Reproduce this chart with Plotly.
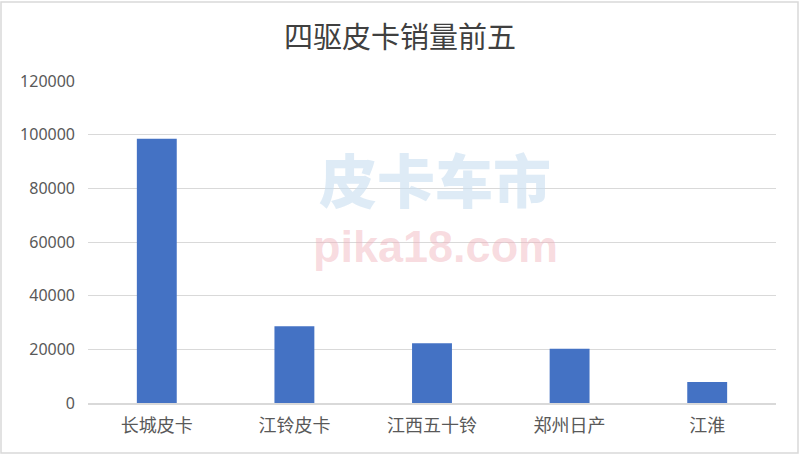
import plotly.graph_objects as go

categories = ["长城皮卡", "江铃皮卡", "江西五十铃", "郑州日产", "江淮"]
sales = [98500, 28600, 22300, 20200, 7850]
tick_vals = [0, 20000, 40000, 60000, 80000, 100000, 120000]
tick_text = ["0", "20000", "40000", "60000", "80000", "100000", "120000"]
title_text = "四驱皮卡销量前五"
wm_cn = "皮卡车市"
wm_en = "pika18.com"

fig = go.Figure(go.Bar(
    x=categories, y=sales,
    marker=dict(color="#4472C4", line=dict(width=0)),
))

fig.update_layout(
    width=800, height=455,
    margin=dict(l=88, r=24, t=81, b=52),
    paper_bgcolor="white", plot_bgcolor="white",
    bargap=0.71,
    showlegend=False,
    title=dict(text=title_text, x=0.5, xanchor="center", y=0.917, yanchor="middle",
               font=dict(family="Noto Sans CJK SC", size=29, color="#404040")),
    font=dict(family="Noto Sans CJK SC", color="#595959"),
)
fig.update_xaxes(
    showgrid=False, showline=True, linecolor="#D9D9D9", linewidth=1.5,
    ticks="", ticklabelstandoff=6,
    tickfont=dict(family="Noto Sans CJK SC", size=18, color="#595959"),
)
fig.update_yaxes(
    range=[0, 120000], tickvals=tick_vals, ticktext=tick_text,
    showgrid=True, gridcolor="#D9D9D9", gridwidth=1, zeroline=False,
    showline=False, ticks="", ticklabelstandoff=12,
    tickfont=dict(family="Noto Sans", size=16, color="#595959"),
)
fig.add_annotation(text=wm_cn, xref="paper", yref="paper",
                   x=0.505, y=0.835, showarrow=False,
                   font=dict(family="Noto Sans CJK SC", size=58, weight=900,
                             color="rgba(200,222,240,0.6)"))
fig.add_annotation(text="<b>" + wm_en + "</b>", xref="paper", yref="paper",
                   x=0.505, y=0.485, showarrow=False,
                   font=dict(family="Liberation Sans", size=45,
                             color="rgba(240,175,185,0.45)"))
# chart frame
fig.add_shape(type="rect", xref="paper", yref="paper",
              x0=-87/688, x1=1 + 22/688, y0=-50/322, y1=1 + 79/322,
              line=dict(color="#D9D9D9", width=1.5), fillcolor="rgba(0,0,0,0)", layer="below")

fig.write_html("out.html", config={"displayModeBar": False},
               post_script="document.body.style.margin='0';")
